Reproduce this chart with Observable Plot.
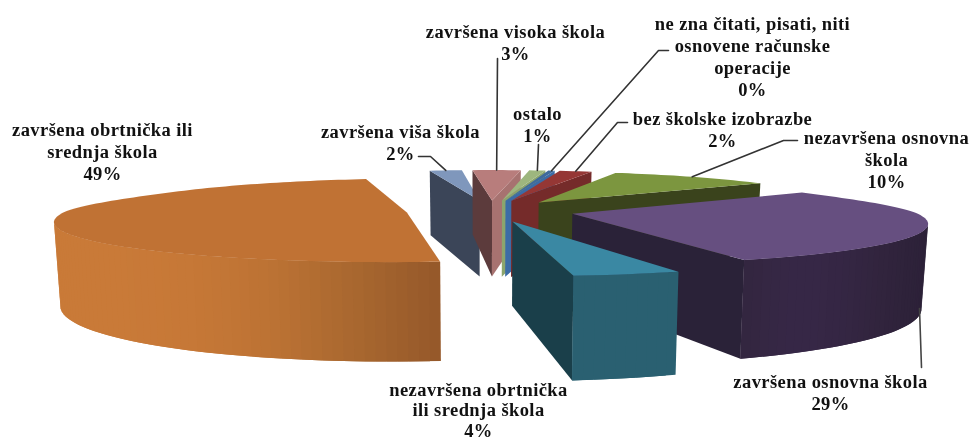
<!DOCTYPE html>
<html>
<head>
<meta charset="utf-8">
<style>
html,body{margin:0;padding:0;background:#fff;overflow:hidden}
svg{display:block;filter:blur(0.45px)}
svg text{letter-spacing:0.42px}
</style>
<script src="https://cdn.jsdelivr.net/npm/d3@7"></script>
<script src="https://cdn.jsdelivr.net/npm/@observablehq/plot@0.6"></script>
</head>
<body>
<div id="chart"></div>
<script>
// ---------- data, in drawing order (clockwise from the front of the pie)
const categories = [
  "završena obrtnička ili\nsrednja škola",
  "završena viša škola",
  "završena visoka škola",
  "ostalo",
  "ne zna čitati, pisati, niti\nosnovene računske\noperacije",
  "bez školske izobrazbe",
  "nezavršena osnovna\nškola",
  "završena osnovna škola",
  "nezavršena obrtnička\nili srednja škola"
];
const shares = [49, 2, 3, 1, 0.4, 2, 10, 29, 4];

// ---------- styles
const topColors   = ["#C07234","#7F97BC","#B87D7C","#9DB67E","#3F6A9C","#953735","#7C963F","#664F80","#3A88A3"];
const startWalls  = ["#8f5526","#3B4558","#5C3B3C","#7a8f60","#35598a","#752B2A","#3A431C","#2A2238","#1A3F4A"];
const endWalls    = ["#95582A","#5f7390","#A77270","#8CA56D","#3C6CA6","#752B2A","#3A431C","#2A2238","#1A3F4A"];
const outerStops  = [
  ["#95582A","#AB6A30","#C27535","#C97A38","#C97A38"],
  ["#5f7390"],["#A77270"],["#8CA56D"],["#3C6CA6"],["#752B2A"],["#3A431C"],
  ["#33263F","#38284A","#33253F","#2C2138"],
  ["#2A6071"]
];

// ---------- layout of the perspective pie (chart units)
const startAngle = 173, explode = 0.4, radiusX = 1.62, radiusZ = 1.48, farNarrowing = 0.1;
const centre = [0.024, 7.85], focal = 1650, eyeX = 485;
const wallScale = 1.38, wallLean = 0.985;

// ---------- label layout (chart units)
const labelX = [102, 400, 515, 537, 752, 722, 886, 830, 478];
const labelY = [150, 141, 41, 123.5, 55.5, 128.5, 158, 391, 409];
// leader: elbow points from the slice rim to its label (none for two slices)
const leaders = [
  null,
  [[430,156],[418,156]],
  [[497,58]],
  [[538,144]],
  [[658,50],[668,50]],
  [[617,122],[627,122]],
  [[783,140],[797,140]],
  null,
  null
];

const project = (X, Z, bottom) => {
  const y = focal / Z, x = eyeX + X * y;
  return bottom ? [eyeX + (x - eyeX) * wallLean, y * wallScale] : [x, y];
};
const rad = d => d * Math.PI / 180;
const total = d3.sum(shares);

const faces = [];
let fid = 0;
const addFace = (color, pts) => {
  const id = fid++;
  for (const [x, y] of pts) faces.push({id, color, x, y});
};
const rimAnchors = [];
let angle = startAngle;
shares.forEach((v, i) => {
  const a0 = angle, a1 = angle + v / total * 360;
  angle = a1;
  const mid = (a0 + a1) / 2;
  const ax = centre[0] + explode * Math.sin(rad(mid));
  const az = centre[1] + explode * Math.cos(rad(mid));
  const rimAt = a => {
    const t = Math.min(1, Math.max(0, Math.cos(rad(a)) / 0.6));
    const rx = radiusX - farNarrowing * t * t * (3 - 2 * t);
    return [ax + rx * Math.sin(rad(a)), az + radiusZ * Math.cos(rad(a))];
  };
  const n = Math.max(2, Math.ceil((a1 - a0) / 1.5));
  const arc = d3.range(n + 1).map(k => a0 + (a1 - a0) * k / n);
  rimAnchors.push(project(...rimAt(mid)));

  const wall = (p, q, color) => {
    addFace(color, [project(...p), project(...q), project(...q, true), project(...p, true)]);
  };
  const faces2cam = (p, q, nx, nz) => {
    const mx = (p[0] + q[0]) / 2, mz = (p[1] + q[1]) / 2;
    return nx * (-mx) + nz * (-mz) > 0;
  };
  // radial walls
  const apex = [ax, az], r0 = rimAt(a0), r1 = rimAt(a1);
  if (faces2cam(apex, r0, Math.sin(rad(a0 - 90)), Math.cos(rad(a0 - 90)))) wall(apex, r0, startWalls[i]);
  if (faces2cam(apex, r1, Math.sin(rad(a1 + 90)), Math.cos(rad(a1 + 90)))) wall(apex, r1, endWalls[i]);
  // outer wall, shaded strip by strip along its visible width
  const vis = [];
  for (let k = 0; k < n; k++) {
    const am = (arc[k] + arc[k + 1]) / 2;
    const p = rimAt(arc[k]), q = rimAt(arc[k + 1]);
    if (faces2cam(p, q, Math.sin(rad(am)), Math.cos(rad(am)))) vis.push([p, q]);
  }
  if (vis.length) {
    const xs = vis.flatMap(([p, q]) => [project(...p)[0], project(...q)[0]]);
    const [x0, x1] = d3.extent(xs);
    const stops = outerStops[i];
    const shade = stops.length > 1 ? d3.interpolateRgbBasis(stops) : () => stops[0];
    // stops run left to right for purple, right to left for orange.
    // Each strip reaches over its neighbour so that no seams show.
    vis.forEach(([p, q], k) => {
      const xm = (project(...p)[0] + project(...q)[0]) / 2;
      const t = i === 0 ? (x1 - xm) / (x1 - x0) : (xm - x0) / (x1 - x0);
      const end = k + 1 < vis.length ? vis[k + 1][1] : q;
      wall(p, end, d3.color(shade(t)).formatHex());
    });
  }
  // top surface
  addFace(topColors[i], [apex, ...arc.map(rimAt)].map(p => project(...p)));
});

const leaderRows = [];
leaders.forEach((pts, i) => {
  if (!pts) return;
  for (const [x, y] of [rimAnchors[i], ...pts]) leaderRows.push({i, x, y});
});
// the leader of the largest right-hand slice hangs from its lower rim
const purple = 7;
const purpleLeader = [[919, 308], [921, 367]].map(([x, y]) => ({i: purple, x, y}));

const labels = categories.map((c, i) => ({
  text: `${c}\n${Math.round(shares[i])}%`,
  x: labelX[i], y: labelY[i]
}));

const fontSize = 18.5;
const textStyle = {
  x: "x", y: "y", text: "text",
  fontFamily: "Liberation Serif", fontWeight: "bold", fontSize,
  fill: "#111", textAnchor: "middle"
};
const chart = Plot.plot({
  width: 969, height: 443,
  margin: 0,
  x: {domain: [0, 969], range: [0, 969], axis: null},
  y: {domain: [0, 443], range: [0, 443], axis: null},
  color: {type: "identity"},
  marks: [
    Plot.line(faces, {x: "x", y: "y", z: "id", fill: "color", stroke: "none", curve: "linear-closed"}),
    Plot.line(leaderRows, {x: "x", y: "y", z: "i", stroke: "#333", strokeWidth: 1.6}),
    Plot.line(purpleLeader, {x: "x", y: "y", z: "i", stroke: "#444", strokeWidth: 1.6}),
    Plot.text(labels.slice(0, -1), {...textStyle, lineHeight: 22 / fontSize}),
    Plot.text(labels.slice(-1), {...textStyle, lineHeight: 20.5 / fontSize})
  ]
});
document.getElementById("chart").appendChild(chart);
</script>
</body>
</html>
